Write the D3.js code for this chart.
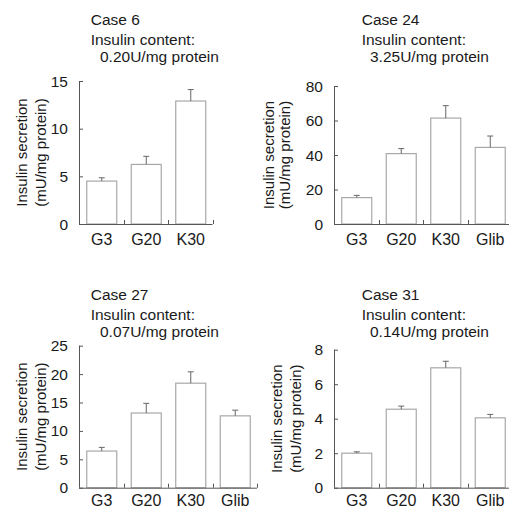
<!DOCTYPE html>
<html>
<head>
<meta charset="utf-8">
<script src="https://cdn.jsdelivr.net/npm/d3@7"></script>
<style>
  html, body { margin: 0; padding: 0; background: #fff; }
  svg { display: block; }
  text { font-family: "Liberation Sans", Arial, sans-serif; fill: #1a1a1a; }
</style>
</head>
<body>
<svg id="chart" width="509" height="510"></svg>
<script>
// ---- data ----
const caseNames = ["Case 6", "Case 24", "Case 27", "Case 31"];
const contentLabels = ["0.20U/mg protein", "3.25U/mg protein", "0.07U/mg protein", "0.14U/mg protein"];
const categories3 = ["G3", "G20", "K30"];
const categories4 = ["G3", "G20", "K30", "Glib"];

const case6Means = [4.5, 6.25, 12.9];
const case6Errors = [0.35, 0.85, 1.2];
const case24Means = [15.3, 40.8, 61.4, 44.4];
const case24Errors = [1.3, 2.9, 7.2, 6.6];
const case27Means = [6.45, 13.15, 18.4, 12.65];
const case27Errors = [0.65, 1.7, 2.0, 1.0];
const case31Means = [2.0, 4.55, 6.95, 4.05];
const case31Errors = [0.08, 0.18, 0.38, 0.2];

const case6Ticks = [0, 5, 10, 15];
const case24Ticks = [0, 20, 40, 60, 80];
const case27Ticks = [0, 5, 10, 15, 20, 25];
const case31Ticks = [0, 2, 4, 6, 8];

const yTitleLines = ["Insulin secretion", "(mU/mg protein)"];
const contentHeading = "Insulin content:";

// ---- layout (positions only) ----
const panels = [
  { name: caseNames[0], content: contentLabels[0], cats: categories3, means: case6Means, errs: case6Errors, ticks: case6Ticks,
    ax: 79, yTop: 81, yBot: 224, tx: 90.7, sx: 100, tBase: 25, yt1: -52.3, yt2: -33.5 },
  { name: caseNames[1], content: contentLabels[1], cats: categories4, means: case24Means, errs: case24Errors, ticks: case24Ticks,
    ax: 334, yTop: 86, yBot: 224, tx: 361.7, sx: 370, tBase: 25, yt1: -59.7, yt2: -44 },
  { name: caseNames[2], content: contentLabels[2], cats: categories4, means: case27Means, errs: case27Errors, ticks: case27Ticks,
    ax: 79, yTop: 345.7, yBot: 487.7, tx: 90.7, sx: 100, tBase: 300, yt1: -52.3, yt2: -33.5 },
  { name: caseNames[3], content: contentLabels[3], cats: categories4, means: case31Means, errs: case31Errors, ticks: case31Ticks,
    ax: 334, yTop: 349.7, yBot: 487.7, tx: 361.7, sx: 370, tBase: 300, yt1: -52.3, yt2: -33.5 }
];

const step = 44.5, barW = 30, fs = 15, tfs = 15.5;
const axisColor = "#555", barColor = "#a8a8a8", errColor = "#666";
const svg = d3.select("#chart");

panels.forEach(p => {
  const g = svg.append("g");
  const x = d3.scaleBand().domain(p.cats).range([p.ax, p.ax + p.cats.length * step]).padding(0);
  const y = d3.scaleLinear().domain([p.ticks[0], p.ticks[p.ticks.length - 1]]).range([p.yBot, p.yTop]);

  // titles
  g.append("text").attr("x", p.tx).attr("y", p.tBase).attr("font-size", tfs).text(p.name);
  g.append("text").attr("x", p.tx).attr("y", p.tBase + 19.5).attr("font-size", tfs).text(contentHeading);
  g.append("text").attr("x", p.sx).attr("y", p.tBase + 37).attr("font-size", tfs).text(p.content);

  // bars
  const data = p.cats.map((c, i) => ({ c, m: p.means[i], e: p.errs[i] }));
  g.selectAll("rect.bar").data(data).join("rect")
    .attr("class", "bar")
    .attr("x", d => x(d.c) + (x.bandwidth() - barW) / 2 + 0.5)
    .attr("y", d => y(d.m))
    .attr("width", barW)
    .attr("height", d => y(0) - y(d.m))
    .attr("fill", "#fff").attr("stroke", barColor).attr("stroke-width", 1.2);

  // error bars
  const eg = g.selectAll("g.err").data(data).join("g").attr("class", "err");
  eg.append("line")
    .attr("x1", d => x(d.c) + x.bandwidth() / 2 + 0.5).attr("x2", d => x(d.c) + x.bandwidth() / 2 + 0.5)
    .attr("y1", d => y(d.m)).attr("y2", d => y(d.m + d.e))
    .attr("stroke", errColor).attr("stroke-width", 1);
  eg.append("line")
    .attr("x1", d => x(d.c) + x.bandwidth() / 2 - 2.5).attr("x2", d => x(d.c) + x.bandwidth() / 2 + 3.5)
    .attr("y1", d => y(d.m + d.e)).attr("y2", d => y(d.m + d.e))
    .attr("stroke", errColor).attr("stroke-width", 1);

  // y axis
  const yAxis = d3.axisRight(y).tickValues(p.ticks).tickSize(4).tickFormat("");
  const ya = g.append("g").attr("transform", `translate(${p.ax},0)`).call(yAxis);
  ya.select(".domain").attr("stroke", axisColor).attr("d", `M0.5,${p.yTop}V${p.yBot}`);
  ya.selectAll(".tick line").attr("stroke", axisColor);
  g.selectAll("text.ytick").data(p.ticks).join("text")
    .attr("class", "ytick")
    .attr("x", p.ax - 11).attr("y", d => y(d)).attr("dy", "0.36em")
    .attr("text-anchor", "end").attr("font-size", tfs).text(d => d);

  // x axis
  const xEnd = p.ax + p.cats.length * step;
  g.append("line").attr("x1", p.ax).attr("x2", xEnd).attr("y1", p.yBot + 0.5).attr("y2", p.yBot + 0.5)
    .attr("stroke", axisColor).attr("stroke-width", 1);
  const bounds = p.cats.map(c => x(c) + x.bandwidth());
  g.selectAll("line.xt").data(bounds).join("line").attr("class", "xt")
    .attr("x1", d => Math.round(d) + 0.5).attr("x2", d => Math.round(d) + 0.5)
    .attr("y1", p.yBot).attr("y2", p.yBot - 4)
    .attr("stroke", axisColor).attr("stroke-width", 1);
  g.selectAll("text.xl").data(p.cats).join("text").attr("class", "xl")
    .attr("x", d => x(d) + x.bandwidth() / 2 + 0.5).attr("y", Math.min(p.yBot + 21, 506))
    .attr("text-anchor", "middle").attr("font-size", 16).text(d => d);

  // y axis title
  const cy = (p.yTop + p.yBot) / 2;
  g.append("text").attr("transform", `translate(${p.ax + p.yt1},${cy}) rotate(-90)`)
    .attr("text-anchor", "middle").attr("font-size", fs).text(yTitleLines[0]);
  g.append("text").attr("transform", `translate(${p.ax + p.yt2},${cy}) rotate(-90)`)
    .attr("text-anchor", "middle").attr("font-size", fs).text(yTitleLines[1]);
});
</script>
</body>
</html>
